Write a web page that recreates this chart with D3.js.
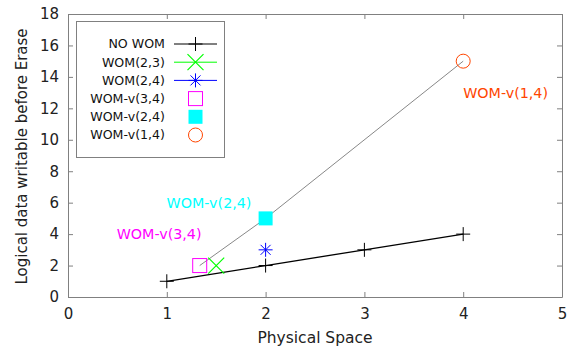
<!DOCTYPE html>
<html>
<head>
<meta charset="utf-8">
<script src="https://cdn.jsdelivr.net/npm/d3@7"></script>
<style>
  body { margin: 0; background: #fff; }
  svg { font-family: 'DejaVu Sans', sans-serif; display: block; }
</style>
</head>
<body>
<div class="chart"></div>
<script>
// data
const noWom = [[1, 1], [2, 2], [3, 3], [4, 4]];
const wom23 = [[1.5, 2]];
const wom24 = [[2, 3]];
const womV34 = [[1.333, 2]];
const womV24 = [[2, 5]];
const womV14 = [[4, 15]];
const womVLine = [[1.333, 2], [2, 5], [4, 15]];
const xTicks = [0, 1, 2, 3, 4, 5];
const yTicks = [0, 2, 4, 6, 8, 10, 12, 14, 16, 18];
const legendNames = ['NO WOM', 'WOM(2,3)', 'WOM(2,4)', 'WOM-v(3,4)', 'WOM-v(2,4)', 'WOM-v(1,4)'];
const annotations = [
  { text: 'WOM-v(2,4)', x: 2, y: 5, color: '#00ffff', dx: -99, dy: -10.5 },
  { text: 'WOM-v(3,4)', x: 1.333, y: 2, color: '#ff00ff', dx: -83, dy: -26.5 },
  { text: 'WOM-v(1,4)', x: 4, y: 15, color: '#ff4500', dx: 0, dy: 37 }
];

const width = 572, height = 347;
const margin = { top: 14, right: 10, bottom: 50, left: 68 };

const svg = d3.select('.chart').append('svg').attr('width', width).attr('height', height);

const x = d3.scaleLinear().domain([0, 5]).range([margin.left, width - margin.right]);
const y = d3.scaleLinear().domain([0, 18]).range([height - margin.bottom, margin.top]);

const frameColor = '#808080';
const font = "'DejaVu Sans', sans-serif";

// axes, ticks pointing inward
svg.append('g').attr('transform', `translate(0,${height - margin.bottom})`)
  .call(d3.axisBottom(x).tickValues(xTicks).tickFormat(d3.format('d')).tickSizeInner(-5).tickSizeOuter(0).tickPadding(11))
  .call(g => g.attr('font-family', font).attr('font-size', 15).selectAll('text').attr('fill', '#222'));
svg.append('g').attr('transform', `translate(0,${margin.top})`)
  .call(d3.axisTop(x).tickValues(xTicks).tickSizeInner(-5).tickSizeOuter(0).tickFormat(''));
svg.append('g').attr('transform', `translate(${margin.left},0)`)
  .call(d3.axisLeft(y).tickValues(yTicks).tickSizeInner(-5).tickSizeOuter(0).tickPadding(9))
  .call(g => g.attr('font-family', font).attr('font-size', 15).selectAll('text').attr('fill', '#222'));
svg.append('g').attr('transform', `translate(${width - margin.right},0)`)
  .call(d3.axisRight(y).tickValues(yTicks).tickSizeInner(-5).tickSizeOuter(0).tickFormat(''));
svg.selectAll('.domain').attr('stroke', frameColor);
svg.selectAll('.tick line').attr('stroke', frameColor);

svg.append('text').attr('x', (margin.left + width - margin.right) / 2).attr('y', height - 4.5)
  .attr('text-anchor', 'middle').style('font-size', '15.5px').attr('fill', '#222').text('Physical Space');
svg.append('text').attr('transform', `translate(27,${(margin.top + height - margin.bottom) / 2 + 1}) rotate(-90)`)
  .attr('text-anchor', 'middle').style('font-size', '15px').attr('fill', '#222').text('Logical data writable before Erase');

const line = d3.line().x(d => x(d[0])).y(d => y(d[1]));

// marker drawing helpers
const markers = {
  plus: (g, cx, cy, c) => {
    g.append('path').attr('d', `M${cx - 7},${cy}H${cx + 7}M${cx},${cy - 7}V${cy + 7}`).attr('stroke', c).attr('stroke-width', 1);
  },
  cross: (g, cx, cy, c) => {
    g.append('path').attr('d', `M${cx - 8},${cy - 8}L${cx + 8},${cy + 8}M${cx - 8},${cy + 8}L${cx + 8},${cy - 8}`).attr('stroke', c).attr('stroke-width', 1.2);
  },
  star: (g, cx, cy, c) => {
    g.append('path').attr('d', `M${cx - 7},${cy}H${cx + 7}M${cx},${cy - 7}V${cy + 7}M${cx - 5},${cy - 5}L${cx + 5},${cy + 5}M${cx - 5},${cy + 5}L${cx + 5},${cy - 5}`).attr('stroke', c).attr('stroke-width', 1);
  },
  square: (g, cx, cy, c) => {
    g.append('rect').attr('x', cx - 7).attr('y', cy - 7).attr('width', 14).attr('height', 14).attr('fill', 'none').attr('stroke', c).attr('stroke-width', 1);
  },
  squareFilled: (g, cx, cy, c) => {
    g.append('rect').attr('x', cx - 7).attr('y', cy - 7).attr('width', 14).attr('height', 14).attr('fill', c);
  },
  circle: (g, cx, cy, c) => {
    g.append('circle').attr('cx', cx).attr('cy', cy).attr('r', 7).attr('fill', 'none').attr('stroke', c).attr('stroke-width', 1);
  }
};

const series = [
  { data: noWom, mark: 'plus', color: '#000000' },
  { data: wom23, mark: 'cross', color: '#00ff00' },
  { data: wom24, mark: 'star', color: '#0000ff' },
  { data: womV34, mark: 'square', color: '#ff00ff' },
  { data: womV24, mark: 'squareFilled', color: '#00ffff' },
  { data: womV14, mark: 'circle', color: '#ff4500' }
];

// lines
svg.append('path').datum(womVLine).attr('d', line).attr('fill', 'none').attr('stroke', '#888').attr('stroke-width', 1);
svg.append('path').datum(noWom).attr('d', line).attr('fill', 'none').attr('stroke', '#000').attr('stroke-width', 1.3);

// points
const pts = svg.append('g');
series.forEach(s => {
  s.data.forEach(d => markers[s.mark](pts, x(d[0]), y(d[1]), s.color));
});

// annotations
annotations.forEach(a => {
  svg.append('text').attr('x', x(a.x) + a.dx).attr('y', y(a.y) + a.dy)
    .style('font-size', '14.3px').attr('fill', a.color).text(a.text);
});

// legend
const legend = svg.append('g');
legend.append('rect').attr('x', 76.5).attr('y', 21.5).attr('width', 148).attr('height', 136)
  .attr('fill', '#fff').attr('stroke', frameColor);
legendNames.forEach((name, i) => {
  const ly = 44 + i * 18.2;
  legend.append('text').attr('x', 165).attr('y', ly).attr('dy', '0.35em').attr('text-anchor', 'end')
    .style('font-size', '12.6px').attr('fill', '#111').text(name);
  if (i < 3) {
    legend.append('line').attr('x1', 174).attr('x2', 217).attr('y1', ly).attr('y2', ly)
      .attr('stroke', series[i].color).attr('stroke-width', 1);
  }
  markers[series[i].mark](legend, 195.5, ly, series[i].color);
});
</script>
</body>
</html>
